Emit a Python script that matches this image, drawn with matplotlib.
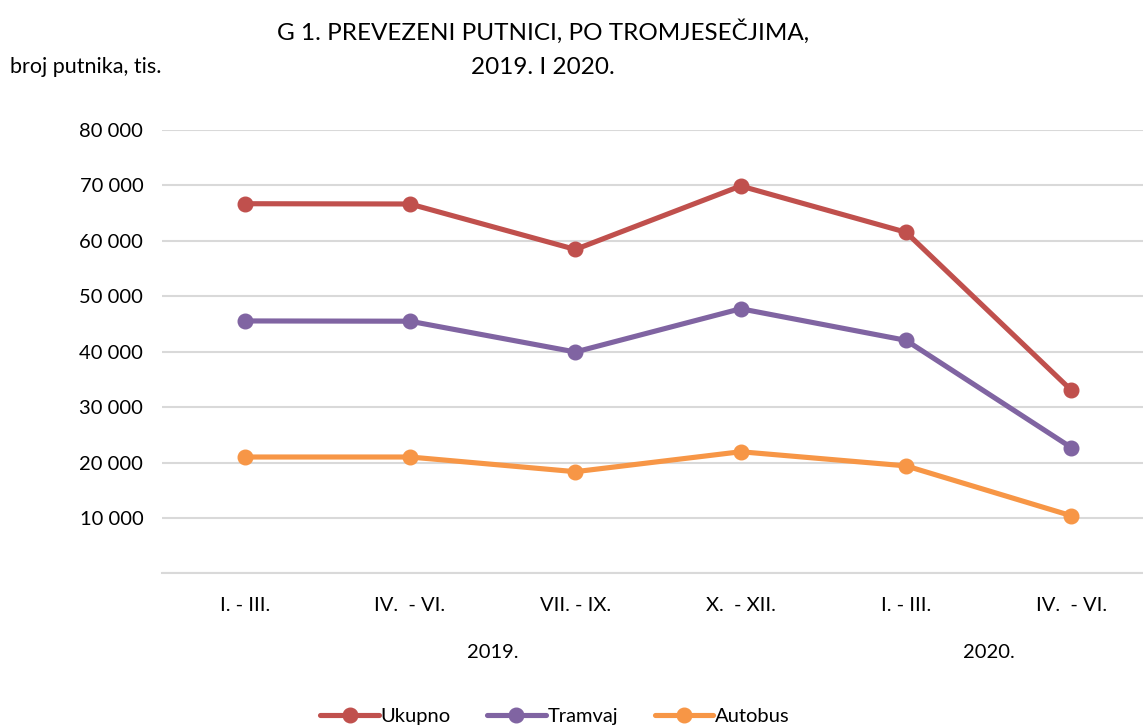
import matplotlib
matplotlib.use("Agg")
import matplotlib.pyplot as plt
from matplotlib.ticker import FuncFormatter

categories = ["I. - III.", "IV.  - VI.", "VII. - IX.", "X.  - XII.", "I. - III.", "IV.  - VI."]
years = ["2019.", "2020."]
year_groups = [(0, 3), (4, 5)]
ukupno = [66700, 66650, 58450, 69900, 61550, 33050]
tramvaj = [45550, 45500, 39950, 47750, 42050, 22700]
autobus = [21000, 21000, 18350, 21950, 19400, 10400]
series_names = ["Ukupno", "Tramvaj", "Autobus"]
colors = ["#C0504D", "#8064A2", "#F79646"]
yticks = [0, 10000, 20000, 30000, 40000, 50000, 60000, 70000, 80000]

plt.rcParams['font.family'] = ['Lato', 'DejaVu Sans']

W, H = 1143, 727
fig = plt.figure(figsize=(W / 100, H / 100), dpi=100)
left, right = 162, 1154
top, bottom = 130, 573.4
ax = fig.add_axes([left / W, 1 - bottom / H, (right - left) / W, (bottom - top) / H])
ax.set_xlim(-0.5, len(categories) - 0.5)
ax.set_ylim(0, 80000)

fs = 14.5
x = list(range(len(categories)))
for vals, name, c in zip([ukupno, tramvaj, autobus], series_names, colors):
    ax.plot(x, vals, color=c, lw=3.7, marker='o', markersize=10.5, label=name,
            solid_capstyle='round', zorder=3, clip_on=False)

ax.set_yticks(yticks)
ax.yaxis.set_major_formatter(FuncFormatter(lambda v, p: "" if v == 0 else f"{int(v):,}".replace(",", " ")))
ax.grid(axis='y', color='#D9D9D9', lw=1.5)
ax.set_axisbelow(True)
for s in ['top', 'right', 'left']:
    ax.spines[s].set_visible(False)
ax.spines['bottom'].set_color('#D9D9D9')
ax.spines['bottom'].set_linewidth(1.5)
ax.tick_params(axis='both', length=0, labelsize=fs, colors='black')
ax.tick_params(axis='y', pad=13.5)
ax.set_xticks(x)
ax.set_xticklabels(categories)
ax.tick_params(axis='x', pad=17)

for yr, (a, b) in zip(years, year_groups):
    ax.text((a + b) / 2, -0.178, yr, transform=ax.get_xaxis_transform(),
            ha='center', va='center', fontsize=fs)

fig.text(543 / W, 1 - 32 / H, "G 1. PREVEZENI PUTNICI, PO TROMJESEČJIMA,", ha='center', va='center', fontsize=17.5)
fig.text(543 / W, 1 - 67 / H, "2019. I 2020.", ha='center', va='center', fontsize=17.5)
fig.text(10 / W, 1 - 67 / H, "broj putnika, tis.", ha='left', va='center', fontsize=15.5)

fig.legend(loc='center', bbox_to_anchor=(555 / W, 1 - 716 / H), ncol=3, frameon=False,
           fontsize=fs, handlelength=2.9, handletextpad=0.1, columnspacing=1.8)

fig.savefig("out.png", dpi=100)
